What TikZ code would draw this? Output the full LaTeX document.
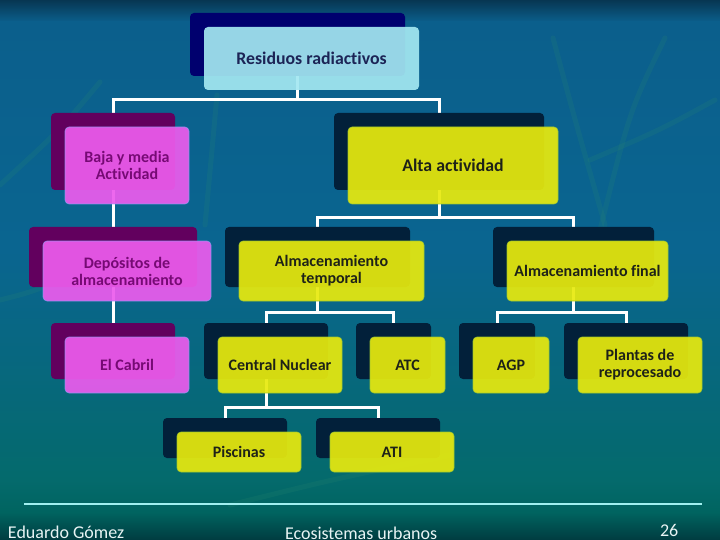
\documentclass[tikz,border=0pt]{standalone}
\usepackage{fontspec}
\setmainfont{Carlito}[Ligatures=NoCommon]
\usetikzlibrary{backgrounds}
\definecolor{rootfront}{HTML}{A3E8F1}
\definecolor{rootshadow}{HTML}{00006E}
\definecolor{roottext}{HTML}{1C2456}
\definecolor{pinkfront}{HTML}{EC5CED}
\definecolor{pinkshadow}{HTML}{62005E}
\definecolor{pinktext}{HTML}{760A74}
\definecolor{yelfront}{HTML}{E8EA0E}
\definecolor{yelshadow}{HTML}{02203A}
\definecolor{yeltext}{HTML}{1E2218}
\definecolor{bgA}{HTML}{073652}
\definecolor{bgB}{HTML}{0B5F8C}
\definecolor{bgC}{HTML}{0A6590}
\definecolor{bgD}{HTML}{046A6C}
\definecolor{bgE}{HTML}{006460}
\definecolor{bgF}{HTML}{003C40}
\definecolor{bladecol}{HTML}{2B8A70}
\definecolor{footline}{HTML}{A0F0F0}
\definecolor{foottext}{HTML}{E8F4F4}
\newcommand{\mybox}[8]{%
  \node[#3, minimum width=#6pt, minimum height=#7pt] (#1s) at (#4-14,#5-14) {};
  \node[#2, minimum width=#6pt, minimum height=#7pt] (#1) at (#4,#5) {#8};
}
\begin{document}
\begin{tikzpicture}[x=1pt,y=-1pt,
  every node/.style={outer sep=0pt, inner sep=2pt},
  basebox/.style={rounded corners=4pt, align=center, font=\bfseries\fontsize{16}{17}\selectfont},
  bigtext/.style={font=\bfseries\fontsize{17.8}{19}\selectfont},
  rootf/.style={basebox, bigtext, fill=rootfront, fill opacity=0.92, text opacity=1, text=roottext},
  roots/.style={basebox, fill=rootshadow},
  pinkf/.style={basebox, fill=pinkfront, fill opacity=0.92, text opacity=1, draw=pinkfront!60!cyan, draw opacity=0.8, line width=0.6pt, text=pinktext},
  pinks/.style={basebox, fill=pinkshadow},
  yelf/.style={basebox, fill=yelfront, fill opacity=0.92, text opacity=1, draw=yelfront!70!teal, draw opacity=0.9, line width=0.6pt, text=yeltext},
  yelfbig/.style={yelf, bigtext},
  yels/.style={basebox, fill=yelshadow},
  conn/.style={draw=white, line width=3pt},
  blade/.style={draw=bladecol, line width=5pt, opacity=0.18, line cap=round},
  foot/.style={text=foottext, font=\fontsize{18}{20}\selectfont, inner sep=0pt}
]
\useasboundingbox (0,0) rectangle (720,540);
\begin{pgfonlayer}{background}
  \shade[top color=bgA, bottom color=bgB] (0,0) rectangle (720,22);
  \shade[top color=bgB, bottom color=bgC] (0,22) rectangle (720,250);
  \shade[top color=bgC, bottom color=bgD] (0,250) rectangle (720,480);
  \shade[top color=bgD, bottom color=bgE] (0,480) rectangle (720,512);
  \shade[top color=bgE, bottom color=bgF] (0,512) rectangle (720,540);
  \draw[blade] (553,38) .. controls (575,120) .. (605,225);
  \draw[blade] (665,38) .. controls (630,110) .. (600,230);
  \draw[blade] (715,100) .. controls (660,130) .. (590,160);
  \draw[blade] (100,82) .. controls (60,130) .. (0,185);
  \draw[blade] (217,95) .. controls (212,150) .. (205,225);
  \draw[blade] (230,505) .. controls (330,480) .. (450,455);
  \draw[blade] (0,300) .. controls (40,290) .. (120,250);
\end{pgfonlayer}

\mybox{root}{rootf}{roots}{311.5}{58.5}{215}{63}{Residuos radiactivos}
\mybox{baja}{pinkf}{pinks}{127}{165.5}{124}{77}{Baja y media\\Actividad}
\mybox{alta}{yelfbig}{yels}{453}{165.5}{210}{77}{Alta actividad}
\mybox{depos}{pinkf}{pinks}{127}{271}{168}{60}{Depósitos de\\almacenamiento}
\mybox{temp}{yelf}{yels}{331.5}{271}{185}{60}{Almacenamiento\\temporal}
\mybox{final}{yelf}{yels}{587.5}{271}{161}{60}{Almacenamiento final}
\mybox{cabril}{pinkf}{pinks}{127}{365}{124}{56}{El Cabril}
\mybox{cn}{yelf}{yels}{280}{365}{124}{56}{Central Nuclear}
\mybox{atc}{yelf}{yels}{407.5}{365}{75}{56}{ATC}
\mybox{agp}{yelf}{yels}{511}{365}{76}{56}{AGP}
\mybox{plantas}{yelf}{yels}{640}{365}{124}{56}{Plantas de\\reprocesado}
\mybox{pisc}{yelf}{yels}{239}{452}{124}{40}{Piscinas}
\mybox{ati}{yelf}{yels}{392}{452}{124}{40}{ATI}

\begin{pgfonlayer}{background}
  \path (roots.south) ++(0,24) coordinate (rootbar);
  \draw[conn] (roots.south) -- (rootbar) -| (bajas.north);
  \draw[conn] (rootbar) -| (altas.north);
  \draw[conn] (bajas.south) -- (deposs.north);
  \draw[conn] (deposs.south) -- (cabrils.north);
  \path (altas.south) ++(0,28) coordinate (altabar);
  \draw[conn] (altas.south) -- (altabar) -| (temps.north);
  \draw[conn] (altabar) -| (finals.north);
  \path (temps.south) ++(0,25) coordinate (tempbar);
  \draw[conn] (temps.south) -- (tempbar) -| (cns.north);
  \draw[conn] (tempbar) -| (atcs.north);
  \path (finals.south) ++(0,25) coordinate (finalbar);
  \draw[conn] (finals.south) -- (finalbar) -| (agps.north);
  \draw[conn] (finalbar) -| (plantass.north);
  \path (cns.south) ++(0,28) coordinate (cnbar);
  \draw[conn] (cns.south) -- (cnbar) -| (piscs.north);
  \draw[conn] (cnbar) -| (atis.north);
\end{pgfonlayer}

\coordinate (fl1) at (24,504);
\coordinate (fl2) at (702,504);
\draw[footline, line width=1.5pt] (fl1) -- (fl2);
\node[foot, anchor=base west] (author) at (8,538) {Eduardo Gómez};
\node[foot, anchor=base west] (course) at (285,539) {Ecosistemas urbanos};
\node[foot, anchor=base west] (page) at (660,536) {26};
\end{tikzpicture}
\end{document}
